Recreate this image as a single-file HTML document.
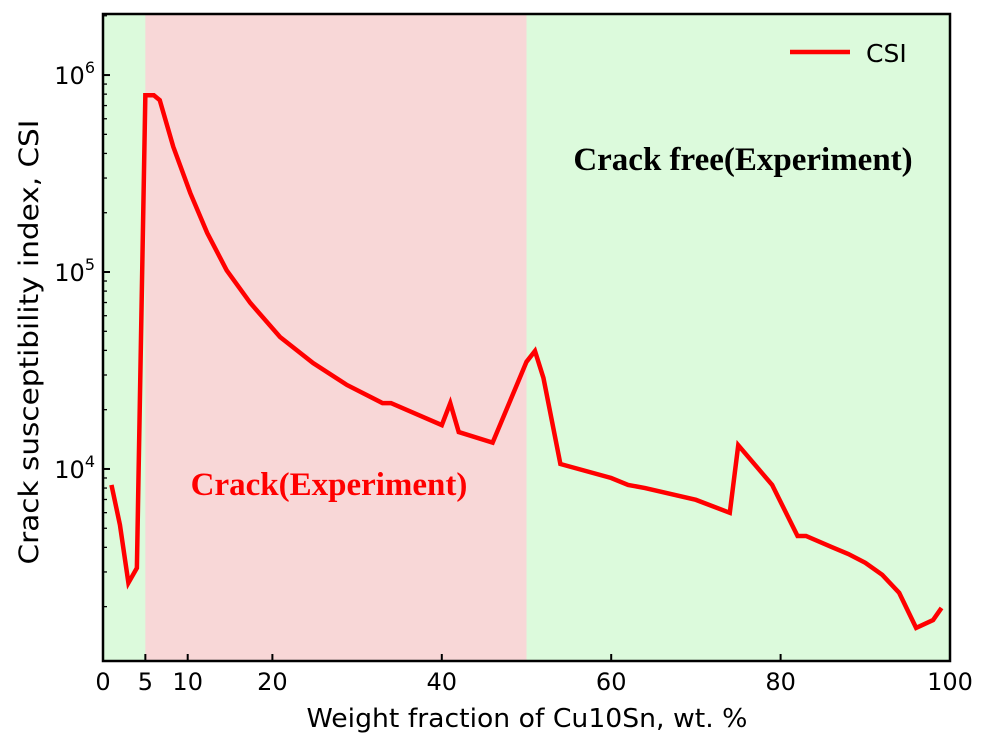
<!DOCTYPE html>
<html><head><meta charset="utf-8"><style>
body{margin:0;background:#fff}
svg{display:block;font-family:"DejaVu Sans","Liberation Sans",sans-serif}
</style></head><body>
<svg id="chart" width="990" height="747" viewBox="0 0 990 747">
<g id="bg"></g><g id="ticks"></g><g id="series"></g>
<text x="743" y="170" text-anchor="middle" font-family="Liberation Serif,serif" font-weight="bold" font-size="33" fill="#000">Crack free(Experiment)</text>
<text x="329" y="495" text-anchor="middle" font-family="Liberation Serif,serif" font-weight="bold" font-size="33" fill="#ff0000">Crack(Experiment)</text>
<g>
<line x1="790" y1="52" x2="850" y2="52" stroke="#ff0000" stroke-width="4.5"/>
<text x="866" y="62" font-size="25" fill="#000">CSI</text>
</g>
<text x="527" y="727" text-anchor="middle" font-size="26" textLength="441" lengthAdjust="spacingAndGlyphs" fill="#000">Weight fraction of Cu10Sn, wt. %</text>
<text transform="translate(38,342) rotate(-90)" text-anchor="middle" font-size="27" textLength="445" lengthAdjust="spacingAndGlyphs" fill="#000">Crack susceptibility index, CSI</text>
<rect x="103" y="14" width="847" height="647" fill="none" stroke="#000" stroke-width="2.5"/>
</svg>
<script>
const xs=[1,2,3,4,5,6,6.7,8.3,10.3,12.3,14.6,17.4,20.9,24.8,28.8,33,34,40,41,42,46,50,51,52,54,60,62,64,70,74,75,79,82,83,86,88,90,92,94,96,98,99];
const csi=[8300,5200,2640,3140,790000,790000,746000,432000,252000,158000,102000,69600,46800,34500,26700,21600,21600,16700,21600,15400,13600,35000,39700,29000,10600,9000,8300,8000,6970,5990,13200,8300,4570,4570,4020,3700,3340,2900,2350,1560,1710,1970];
const xTicks=[0,5,10,20,40,60,80,100];
const yDecades=[4,5,6];
const crackRegion=[5,50];
const NS="http://www.w3.org/2000/svg";
const L=103,R=950,T=14,B=661,xMin=0,xMax=100,lMin=3.025,lMax=6.31;
const sx=v=>L+(v-xMin)/(xMax-xMin)*(R-L);
const sy=v=>B-(Math.log10(v)-lMin)/(lMax-lMin)*(B-T);
function mk(tag,attrs,parent){const e=document.createElementNS(NS,tag);for(const k in attrs)e.setAttribute(k,attrs[k]);parent.appendChild(e);return e;}
const bg=document.getElementById('bg'),tk=document.getElementById('ticks'),se=document.getElementById('series');
let r=mk('rect',{x:L,y:T,width:R-L,height:B-T,fill:'#dcfadc'},bg);


r=mk('rect',{x:sx(crackRegion[0]),y:T,width:sx(crackRegion[1])-sx(crackRegion[0]),height:B-T,fill:'#f8d7d7'},bg);


xTicks.forEach(v=>{
 const l=mk('line',{x1:sx(v),x2:sx(v),y1:B,y2:B-7,stroke:'#000','stroke-width':2},tk);
 
 
 const t=mk('text',{x:sx(v),y:B+29,'text-anchor':'middle','font-size':24,fill:'#000'},tk);
 t.textContent=v;
 
 
});
for(let d=3;d<=6;d++){for(let m=1;m<=9;m++){const v=m*Math.pow(10,d);const lv=Math.log10(v);if(lv<lMin||lv>lMax)continue;
 const major=m===1;
 const l=mk('line',{x1:L,x2:L+(major?7:4),y1:sy(v),y2:sy(v),stroke:'#000','stroke-width':major?2:1.3},tk);
 
 
}}
yDecades.forEach(d=>{
 const t=mk('text',{x:L-8,y:sy(Math.pow(10,d))+9,'text-anchor':'end','font-size':24,fill:'#000'},tk);
 t.innerHTML='10<tspan dy="-11" font-size="16">'+d+'</tspan>';
 
 
});
const p=mk('polyline',{points:xs.map((x,i)=>sx(x)+','+sy(csi[i])).join(' '),fill:'none',stroke:'#ff0000','stroke-width':4.5,'stroke-linejoin':'miter'},se);


</script>
</body></html>
